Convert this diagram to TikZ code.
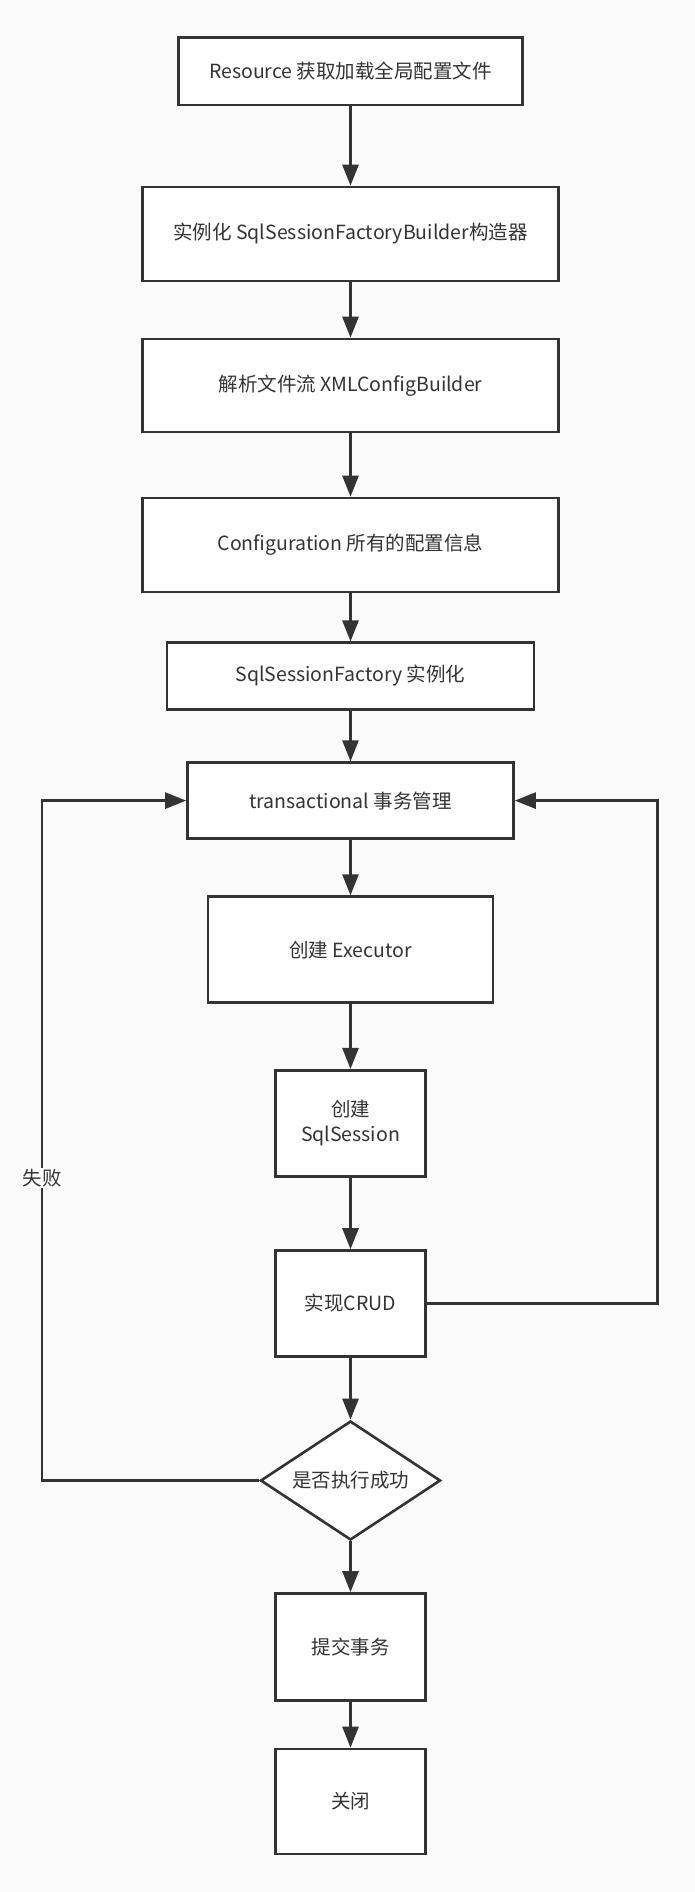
\documentclass[tikz,border=0pt]{standalone}
\usepackage{fontspec}
\setmainfont{Noto Sans CJK SC}
\usetikzlibrary{arrows.meta,shapes.geometric}
\definecolor{ink}{HTML}{333333}
\definecolor{bg}{HTML}{FAFAFA}
\begin{document}
\begin{tikzpicture}[x=1pt,y=-1pt,
  every node/.style={font=\fontsize{19.5}{25}\selectfont, text=ink},
  box/.style={draw=ink, line width=2.6pt, fill=white, inner sep=0pt, align=center},
  decision/.style={diamond, aspect=1.51, draw=ink, line width=2.6pt, fill=white, inner sep=0pt, align=center},
  flow/.style={draw=ink, line width=2.6pt, -{Triangle[length=21pt,width=16pt]}},
  plain/.style={draw=ink, line width=2.6pt}
]
\fill[bg] (0,0) rectangle (695,1892);
\useasboundingbox (0,0) rectangle (695,1892);

\node[box, minimum width=344pt, minimum height=67.6pt] (b1) at (350.5,71.2) {Resource 获取加载全局配置文件};
\node[box, minimum width=416pt, minimum height=94pt] (b2) at (350.5,234) {实例化 SqlSessionFactoryBuilder构造器};
\node[box, minimum width=416pt, minimum height=93pt] (b3) at (350.5,385.5) {解析文件流 XMLConfigBuilder};
\node[box, minimum width=416pt, minimum height=94pt] (b4) at (350.5,545) {Configuration 所有的配置信息};
\node[box, minimum width=367pt, minimum height=66.5pt] (b5) at (350.5,676) {SqlSessionFactory 实例化};
\node[box, minimum width=326pt, minimum height=76pt] (b6) at (350.5,800.6) {transactional 事务管理};
\node[box, minimum width=285pt, minimum height=106pt] (b7) at (350.5,949.6) {创建 Executor};
\node[box, minimum width=150pt, minimum height=106.5pt] (b8) at (350.5,1123.5) {创建\\SqlSession};
\node[box, minimum width=150pt, minimum height=106pt] (b9) at (350.5,1303.5) {实现CRUD};
\node[decision, minimum width=180pt, minimum height=119pt] (d) at (350.5,1480.5) {是否执行成功};
\node[box, minimum width=150pt, minimum height=107pt] (b10) at (350.5,1647) {提交事务};
\node[box, minimum width=150pt, minimum height=105pt] (b11) at (350.5,1801.5) {关闭};

\coordinate (l1) at (42,1480.5);
\coordinate (l2) at (42,800.6);
\coordinate (r1) at (657.7,1303.5);
\coordinate (r2) at (657.7,800.6);

\draw[flow] (b1) -- (b2);
\draw[flow] (b2) -- (b3);
\draw[flow] (b3) -- (b4);
\draw[flow] (b4) -- (b5);
\draw[flow] (b5) -- (b6);
\draw[flow] (b6) -- (b7);
\draw[flow] (b7) -- (b8);
\draw[flow] (b8) -- (b9);
\draw[flow] (b9) -- (d);
\draw[flow] (d) -- (b10);
\draw[flow] (b10) -- (b11);

\draw[flow] (d.west) -- (l1) -- (l2) -- (b6.west);
\draw[flow] (b9.east) -- (r1) -- (r2) -- (b6.east);

\node[fill=white, inner sep=1pt] (fail) at (42,1178) {失败};
\end{tikzpicture}
\end{document}
